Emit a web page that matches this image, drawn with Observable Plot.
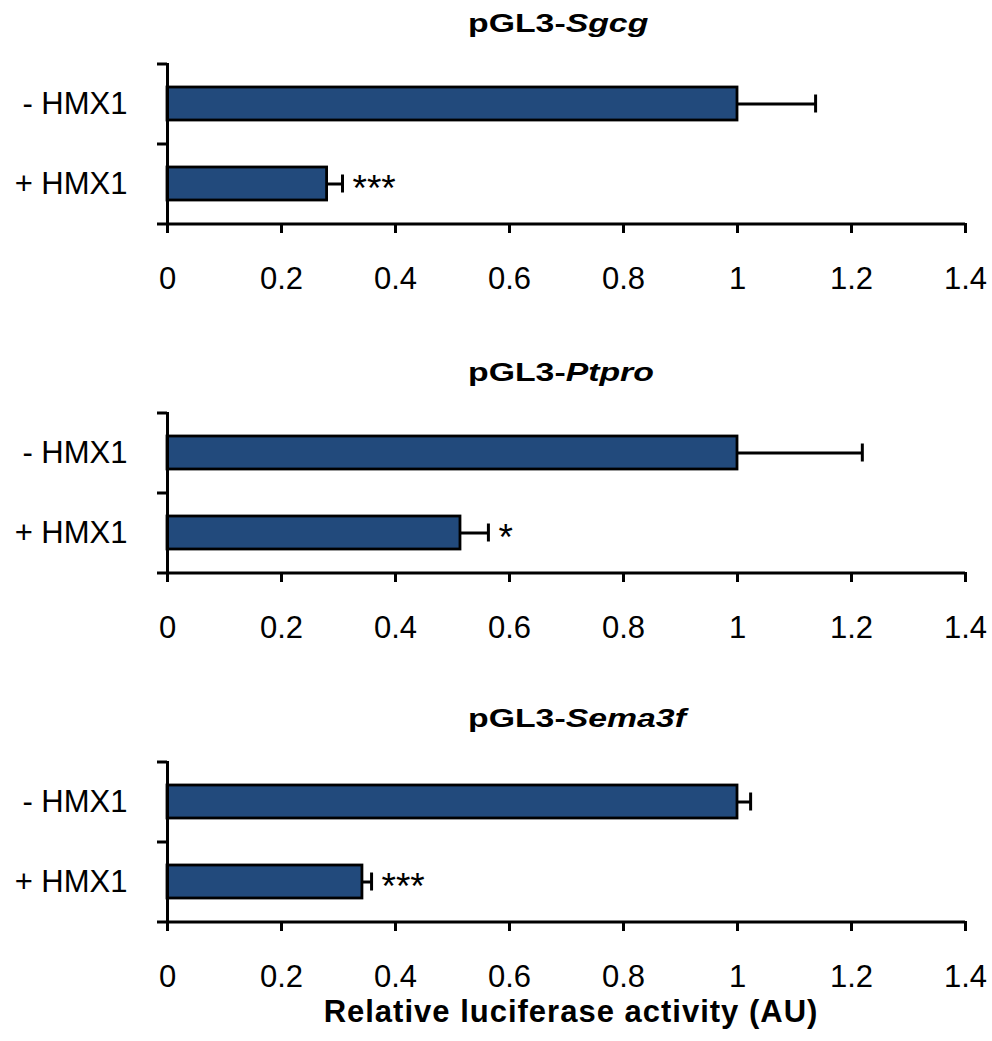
<!DOCTYPE html>
<html><head><meta charset="utf-8">
<script src="https://cdn.jsdelivr.net/npm/d3@7"></script>
<script src="https://cdn.jsdelivr.net/npm/@observablehq/plot@0.6"></script>
<style>
body{margin:0;background:#fff;}
#chart{position:relative;width:992px;height:1041px;font-family:"Liberation Sans",Arial,Helvetica,sans-serif;color:#000;background:#fff;overflow:hidden;}
.panel{position:absolute;left:0;}
.title{position:absolute;left:468px;font-weight:bold;font-size:26px;line-height:26px;white-space:nowrap;transform:scaleX(1.3);transform-origin:0 0;}
.xlabel{position:absolute;left:171px;width:800px;text-align:center;font-weight:bold;font-size:31px;line-height:31px;letter-spacing:1px;white-space:nowrap;}
g[aria-label^="x-axis"] line, g[aria-label^="x-axis"] path{stroke-width:3px;}
</style></head>
<body><div id="chart"></div>
<script>
// ---- data ----
const genes = ["Sgcg", "Ptpro", "Sema3f"];
const conditions = ["- HMX1", "+ HMX1"];
const sgcgValues = [1.0, 0.28];
const sgcgErrors = [0.137, 0.027];
const sgcgStars = ["", "***"];
const ptproValues = [1.0, 0.514];
const ptproErrors = [0.219, 0.049];
const ptproStars = ["", "*"];
const sema3fValues = [1.0, 0.342];
const sema3fErrors = [0.023, 0.016];
const sema3fStars = ["", "***"];
const xTicks = [0, 0.2, 0.4, 0.6, 0.8, 1, 1.2, 1.4];
const xLabel = "Relative luciferase activity (AU)";

const seriesValues = [sgcgValues, ptproValues, sema3fValues];
const seriesErrors = [sgcgErrors, ptproErrors, sema3fErrors];
const seriesStars = [sgcgStars, ptproStars, sema3fStars];

// ---- layout ----
const panelTops = [0, 349, 698];
const titleTops = [10, 359, 705];
const chart = document.getElementById("chart");
const barColor = "#224a7c";

genes.forEach((gene, gi) => {
  const rows = conditions.map((c, i) => ({
    condition: c,
    value: seriesValues[gi][i],
    error: seriesErrors[gi][i],
    stars: seriesStars[gi][i]
  }));
  const svg = Plot.plot({
    width: 992,
    height: 300,
    marginLeft: 167,
    marginRight: 27,
    marginTop: 63,
    marginBottom: 77,
    style: {fontFamily: '"Liberation Sans", Arial, Helvetica, sans-serif', fontSize: "31px", color: "#000", background: "transparent", overflow: "visible"},
    x: {domain: [xTicks[0], xTicks[xTicks.length - 1]], ticks: xTicks, tickFormat: d => String(+d.toFixed(1)), tickSize: 10, tickPadding: 33, label: null},
    y: {domain: conditions, paddingInner: 0.5875, paddingOuter: 0.29375, tickSize: 0, tickPadding: 40, label: null},
    marks: [
      Plot.barX(rows, {x: "value", y: "condition", fill: barColor, stroke: "#000", strokeWidth: 2.8}),
      Plot.ruleY(rows, {y: "condition", x1: "value", x2: d => d.value + d.error, stroke: "#000", strokeWidth: 3}),
      Plot.tickX(rows, {x: d => d.value + d.error, y: "condition", stroke: "#000", strokeWidth: 3, insetTop: 7.5, insetBottom: 7.5}),
      Plot.text(rows.filter(d => d.stars), {x: d => d.value + d.error, y: "condition", text: "stars", textAnchor: "start", dx: 10, dy: 5, fontSize: 37, fill: "#000"}),
      Plot.ruleX([xTicks[0]], {stroke: "#000", strokeWidth: 3}),
      Plot.ruleY([conditions[conditions.length - 1]], {y: d => d, x1: xTicks[0], x2: xTicks[xTicks.length - 1], dy: 40, stroke: "#000", strokeWidth: 3}),
      Plot.ruleY(conditions, {y: d => d, x1: xTicks[0], x2: xTicks[0], dy: -40, insetLeft: -10, stroke: "#000", strokeWidth: 3}),
      Plot.ruleY([conditions[conditions.length - 1]], {y: d => d, x1: xTicks[0], x2: xTicks[0], dy: 40, insetLeft: -10, stroke: "#000", strokeWidth: 3})
    ]
  });
  const wrap = document.createElement("div");
  wrap.className = "panel";
  wrap.style.top = panelTops[gi] + "px";
  wrap.appendChild(svg);
  chart.appendChild(wrap);

  const t = document.createElement("div");
  t.className = "title";
  t.style.top = titleTops[gi] + "px";
  t.append("pGL3-");
  const it = document.createElement("i");
  it.textContent = gene;
  t.appendChild(it);
  chart.appendChild(t);
});

const xl = document.createElement("div");
xl.className = "xlabel";
xl.style.top = "996px";
xl.textContent = xLabel;
chart.appendChild(xl);
</script>
</body></html>
